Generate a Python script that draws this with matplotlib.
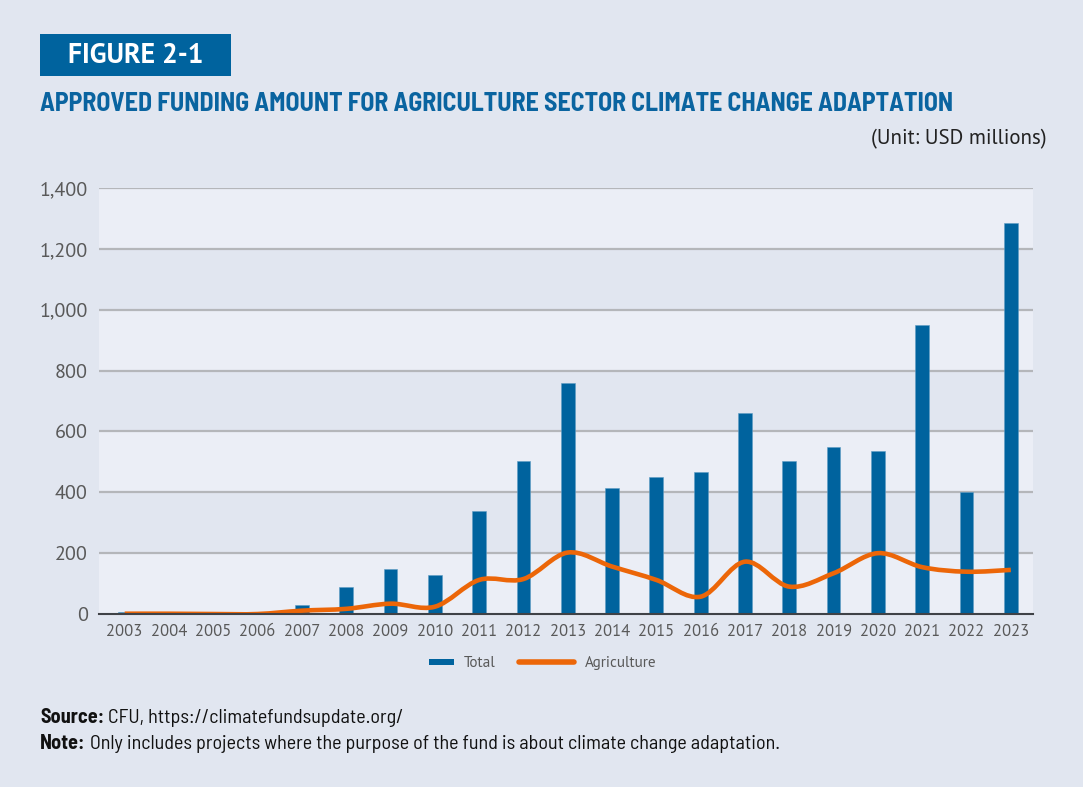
import matplotlib
matplotlib.use("Agg")
import matplotlib.pyplot as plt
import numpy as np
from matplotlib import font_manager
from matplotlib.path import Path
from matplotlib.patches import PathPatch, Rectangle
from matplotlib.lines import Line2D
from matplotlib.legend_handler import HandlerPatch

years = [str(y) for y in range(2003, 2024)]
total = [5, 0, 0, 0, 29, 88, 147, 129, 338, 504, 759, 415, 450, 466, 659, 504, 549, 536, 951, 400, 1286]
agriculture = [1, 1, 0, 0, 11, 17, 34, 24, 112, 115, 202, 156, 112, 57, 172, 90, 134, 200, 154, 139, 145]
yticks = [0, 200, 400, 600, 800, 1000, 1200, 1400]

BG = "#e1e6f0"
BAND = "#ebeef6"
BLUE = "#00639e"
ORANGE = "#ec6608"
GREY = "#595959"

names = {f.name for f in font_manager.fontManager.ttflist}


def pick(*cands):
    for c in cands:
        if c in names:
            return c
    return "DejaVu Sans"


body = pick("PT Sans", "Open Sans")
cond = pick("Barlow Semi Condensed", "Barlow Condensed", "Roboto")
plt.rcParams["font.family"] = [body, "DejaVu Sans"]

fig = plt.figure(figsize=(10.83, 7.87), dpi=100, facecolor=BG)
ax = fig.add_axes([0.0914, 0.2198, 0.8624, 0.5413])
ax.set_facecolor(BAND)

x = np.arange(len(years))
ax.set_xlim(-0.58, 20.5)
ax.set_ylim(0, 1400)

# alternating bands between gridlines
for lo in (200, 600, 1000):
    ax.axhspan(lo, lo + 200, color=BG, lw=0, zorder=0)
for y in yticks[1:]:
    ax.axhline(y, color="#b4b6ba", lw=1.6, zorder=1)

ax.bar(x, total, width=0.31, color=BLUE, edgecolor="#5f9cc4", linewidth=0.4, zorder=2)

# smoothed line: Catmull-Rom segments as cubic Bezier curves
pts = np.column_stack([x, agriculture]).astype(float)
ext = np.vstack([pts[0], pts, pts[-1]])
verts = [tuple(pts[0])]
codes = [Path.MOVETO]
for i in range(len(pts) - 1):
    p0, p1, p2, p3 = ext[i], ext[i + 1], ext[i + 2], ext[i + 3]
    c1 = p1 + (p2 - p0) / 6
    c2 = p2 - (p3 - p1) / 6
    verts += [tuple(c1), tuple(c2), tuple(p2)]
    codes += [Path.CURVE4] * 3
ax.add_patch(PathPatch(Path(verts, codes), fill=False, edgecolor=ORANGE, lw=3.3,
                       capstyle="butt", zorder=3))

ax.set_xticks(x)
ax.set_xticklabels(years)
ax.set_yticks(yticks)
ax.set_yticklabels([f"{v:,}" for v in yticks])
ax.tick_params(axis="x", length=0, pad=7, labelsize=12, labelcolor=GREY)
ax.tick_params(axis="y", length=0, pad=8, labelsize=14.5, labelcolor=GREY)
for s in ("top", "right", "left"):
    ax.spines[s].set_visible(False)
ax.spines["bottom"].set_color("#3f4247")
ax.spines["bottom"].set_linewidth(1.5)
ax.spines["bottom"].set_zorder(4)


def small_box(legend, orig_handle, xdescent, ydescent, width, height, fontsize):
    w = width * 0.44
    h = height * 0.55
    return Rectangle((width - w - xdescent, (height - h) / 2 - ydescent), w, h)


tot_h = Rectangle((0, 0), 1, 1, facecolor=BLUE, edgecolor="none")
agr_h = Line2D([0], [0], color=ORANGE, lw=4, solid_capstyle="round")
fig.legend([tot_h, agr_h], ["Total", "Agriculture"], loc="center",
           bbox_to_anchor=(0.487, 0.157), ncol=2, frameon=False, fontsize=11,
           labelcolor=GREY, handlelength=3.6, handletextpad=0.7, columnspacing=1.5,
           handler_map={tot_h: HandlerPatch(patch_func=small_box)})

# header block
fig.patches.append(Rectangle((40 / 1083, 1 - 76 / 787), 191 / 1083, 42 / 787,
                             transform=fig.transFigure, facecolor="#00639e",
                             edgecolor="none"))
fig.text(135.5 / 1083, 1 - 56 / 787, "FIGURE 2-1", color="white", fontsize=20,
         fontweight="bold", ha="center", va="center")
fig.text(40 / 1083, 1 - 104 / 787,
         "APPROVED FUNDING AMOUNT FOR AGRICULTURE SECTOR CLIMATE CHANGE ADAPTATION",
         color="#0a64a0", fontsize=18.6, fontweight="bold", family=cond,
         ha="left", va="center")
fig.text(1047 / 1083, 1 - 139 / 787, "(Unit: USD millions)", color="#222222",
         fontsize=15, ha="right", va="center")

# source and note lines: bold lead-in followed by regular text
for ypx, lead, rest in [(723, "Source:", "CFU, https://climatefundsupdate.org/"),
                        (749, "Note:", "Only includes projects where the purpose of the fund is about climate change adaptation.")]:
    t = fig.text(40 / 1083, 1 - ypx / 787, lead, color="#111111", fontsize=14.5,
                 fontweight="bold", family=cond, ha="left", va="baseline")
    ax.annotate(rest, xy=(1, 0), xycoords=t, xytext=(3, 0), textcoords="offset points",
                color="#111111", fontsize=14.5, family=cond, ha="left", va="bottom",
                annotation_clip=False)

fig.savefig("out.png", dpi=100, facecolor=BG)
